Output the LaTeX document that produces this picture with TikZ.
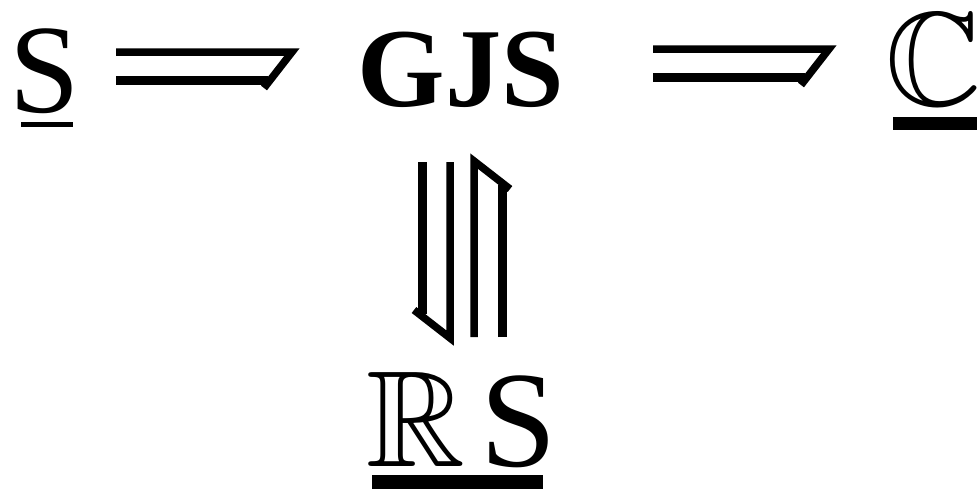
\documentclass[tikz,border=0pt]{standalone}
\usepackage{amssymb}
\usepackage{fontspec}
\setmainfont{Liberation Serif}
\usepackage{tikz}
\definecolor{DiagInk}{HTML}{000000}
\tikzset{
  lbl/.style={inner sep=0pt,anchor=base,text=DiagInk},
  uline/.style={DiagInk,line width=#1},
  dharp/.pic={
    \draw[DiagInk,line width=0.75mm,line join=miter] (0,-14) -- (176,-14) -- (148,22);
    \draw[DiagInk,line width=0.9mm] (0,14) -- (152,14);
  }
}

\begin{document}
\begin{tikzpicture}[x=0.1mm,y=-0.1mm]
      \useasboundingbox (0,0) rectangle (977,490);
      \node[lbl,scale=3.6] (S) at (45,112) {S};
      \node[lbl,scale=3.2] (GJS) at (461,106) {\bfseries GJS};
      \node[lbl,scale=3.8] (C) at (934,105) {$\mathbb{C}$};
      \node[lbl,scale=3.9] (RS) at (462,466) {$\mathbb{R}$\hspace{0.11em}S};
      \draw[uline=0.5mm] (21,124) -- (73,124);
      \draw[uline=1.3mm] (893,123.5) -- (977,123.5);
      \draw[uline=1.4mm] (372,482) -- (543,482);
      \pic at (116,66) {dharp};
      \pic at (653,63) {dharp};
      \pic[rotate=-90] at (436,162) {dharp};
      \pic[rotate=90] at (488,337) {dharp};
    \end{tikzpicture}
\end{document}
